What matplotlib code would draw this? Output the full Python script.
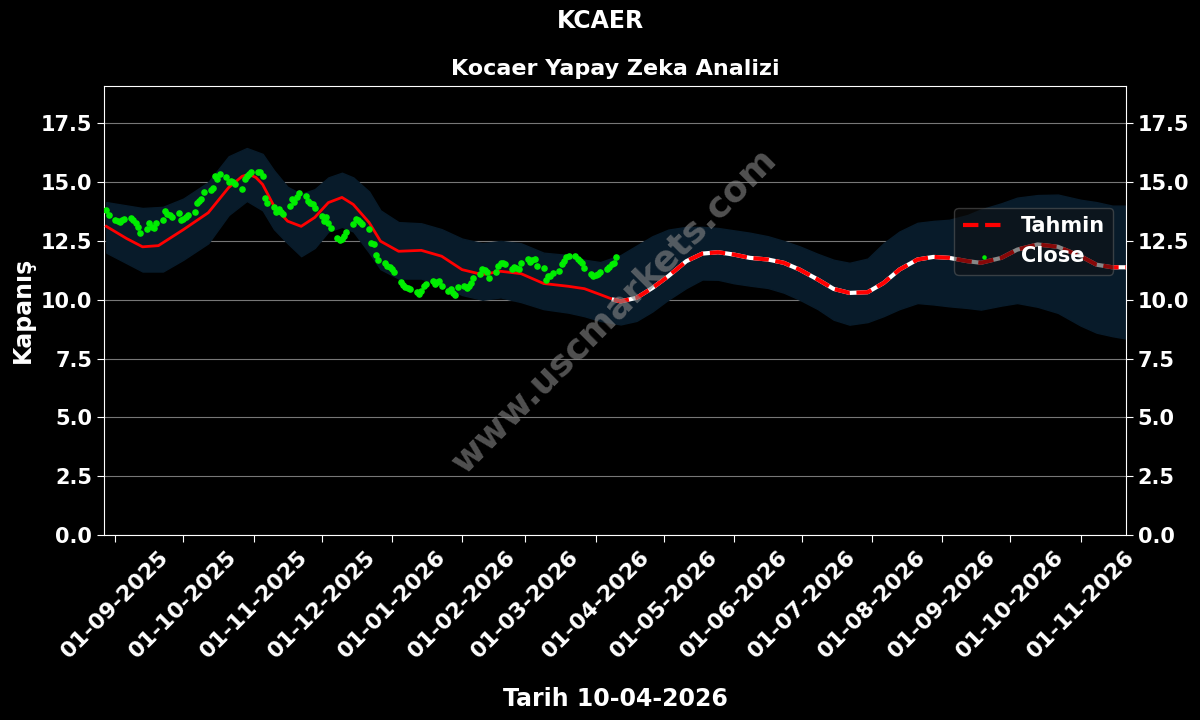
import numpy as np
import pandas as pd
import matplotlib
matplotlib.use("Agg")
import matplotlib.pyplot as plt
import matplotlib.dates as mdates

# kapanis (close) verisi, is gunleri 28-08-2025 .. 10-04-2026
close = [13.83, 13.6,
         13.39, 13.35, 13.3, 13.38, 13.44,
         13.48, 13.4, 13.25, 13.1, 12.85,
         13.0, 13.27, 13.1, 13.05, 13.28,
         13.39, 13.77, 13.65, 13.6, 13.53,
         13.7, 13.39, 13.45, 13.53, 13.59,
         13.73, 14.1, 14.2, 14.27, 14.58,
         14.67, 14.77, 15.27, 15.13, 15.34,
         15.2, 14.99, 15.05, 15.02, 14.92,
         14.7, 15.13, 15.25, 15.34, 15.44,
         15.44, 15.41, 15.24, 14.34, 14.13,
         13.96, 13.73, 13.87, 13.75, 13.63,
         14.0, 14.27, 14.16, 14.35, 14.55,
         14.41, 14.2, 14.1, 14.06, 13.91,
         13.56, 13.34, 13.53, 13.25, 13.07,
         12.64, 12.56, 12.6, 12.7, 12.87,
         13.2, 13.44, 13.39, 13.3, 13.2,
         13.0, 12.43, 12.36, 11.89, 11.69,
         11.58, 11.44, 11.41, 11.3, 11.18,
         10.76, 10.61, 10.56, 10.5, 10.44,
         10.33, 10.23, 10.37, 10.59, 10.66,
         10.8, 10.66, 10.75, 10.8, 10.59,
         10.37, 10.47, 10.3, 10.19, 10.56,
         10.59, 10.52, 10.6, 10.73, 10.94,
         11.09, 11.3, 11.25, 11.18, 10.94,
         11.18, 11.44, 11.58, 11.55, 11.5,
         11.3, 11.41, 11.35, 11.3, 11.58,
         11.73, 11.6, 11.68, 11.75, 11.44,
         11.33, 10.85, 11.0, 11.02, 11.13,
         11.23, 11.51, 11.65, 11.8, 11.87,
         11.84, 11.73, 11.65, 11.58, 11.37,
         11.09, 11.02, 11.05, 11.09, 11.16,
         11.3, 11.41, 11.5, 11.58, 11.8]
close_dates = pd.bdate_range("2025-08-28", periods=len(close))

# model egrisi (gecmis)
fit_dates = ["2025-08-28", "2025-09-06", "2025-09-13", "2025-09-20", "2025-10-01",
             "2025-10-12", "2025-10-21", "2025-10-27", "2025-10-30", "2025-11-02",
             "2025-11-05", "2025-11-10", "2025-11-16", "2025-11-22", "2025-11-28",
             "2025-12-04", "2025-12-10", "2025-12-15", "2025-12-22", "2025-12-27",
             "2026-01-04", "2026-01-14", "2026-01-23", "2026-02-01", "2026-02-10",
             "2026-02-18", "2026-02-27", "2026-03-09", "2026-03-20", "2026-03-27",
             "2026-04-03", "2026-04-09"]
fit_vals = [13.12, 12.6, 12.25, 12.3, 12.98,
            13.7, 14.77, 15.25, 15.33, 15.2,
            14.9, 13.98, 13.34, 13.12, 13.5,
            14.13, 14.35, 14.05, 13.28, 12.49,
            12.06, 12.1, 11.85, 11.28, 11.07,
            11.21, 11.11, 10.69, 10.57, 10.47,
            10.22, 10.0]

# tahmin
fc_dates = ["2026-04-09", "2026-04-12", "2026-04-19", "2026-04-26", "2026-05-03",
            "2026-05-11", "2026-05-18", "2026-05-25", "2026-06-01", "2026-06-08",
            "2026-06-16", "2026-06-23", "2026-06-30", "2026-07-08", "2026-07-15",
            "2026-07-22", "2026-07-30", "2026-08-06", "2026-08-13", "2026-08-21",
            "2026-08-28", "2026-09-04", "2026-09-12", "2026-09-18", "2026-09-27",
            "2026-10-04", "2026-10-13", "2026-10-22", "2026-11-01", "2026-11-08",
            "2026-11-15", "2026-11-21"]
fc_vals = [10.0, 9.93, 10.08, 10.5, 11.0,
           11.64, 11.96, 12.02, 11.92, 11.78,
           11.71, 11.57, 11.28, 10.86, 10.46,
           10.29, 10.32, 10.71, 11.28, 11.71,
           11.82, 11.78, 11.64, 11.57, 11.78,
           12.13, 12.35, 12.25, 11.85, 11.49,
           11.38, 11.38]

# guven bandi
band_dates = ["2025-08-28", "2025-09-13", "2025-09-22", "2025-10-01", "2025-10-12",
              "2025-10-21", "2025-10-29", "2025-11-05", "2025-11-10", "2025-11-16",
              "2025-11-22", "2025-11-28", "2025-12-04", "2025-12-10", "2025-12-15",
              "2025-12-22", "2025-12-27", "2026-01-04", "2026-01-14", "2026-01-23",
              "2026-02-01", "2026-02-10", "2026-02-18", "2026-02-27", "2026-03-09",
              "2026-03-20", "2026-03-27", "2026-04-03", "2026-04-12", "2026-04-19",
              "2026-04-26", "2026-05-03", "2026-05-11", "2026-05-18", "2026-05-25",
              "2026-06-01", "2026-06-08", "2026-06-16", "2026-06-23", "2026-06-30",
              "2026-07-08", "2026-07-15", "2026-07-22", "2026-07-30", "2026-08-06",
              "2026-08-13", "2026-08-21", "2026-08-28", "2026-09-04", "2026-09-12",
              "2026-09-18", "2026-09-27", "2026-10-04", "2026-10-13", "2026-10-22",
              "2026-11-01", "2026-11-08", "2026-11-15", "2026-11-21"]
band_low = [12.0, 11.2, 11.2, 11.7, 12.4,
            13.6, 14.2, 13.8, 13.0, 12.4,
            11.85, 12.2, 12.9, 13.1, 12.9,
            12.0, 11.3, 10.9, 10.9, 10.6,
            10.2, 10.0, 10.1, 9.9, 9.6,
            9.45, 9.3, 9.1, 8.95, 9.1,
            9.5, 10.0, 10.5, 10.86, 10.85,
            10.7, 10.6, 10.5, 10.3, 10.0,
            9.6, 9.15, 8.94, 9.05, 9.3,
            9.6, 9.86, 9.8, 9.72, 9.65,
            9.58, 9.75, 9.86, 9.7, 9.44,
            8.9, 8.6, 8.45, 8.35]
band_high = [14.15, 13.9, 13.95, 14.3, 15.0,
             16.1, 16.45, 16.2, 15.5, 14.8,
             14.5, 14.7, 15.2, 15.4, 15.2,
             14.6, 13.8, 13.3, 13.25, 13.0,
             12.6, 12.4, 12.5, 12.4, 12.0,
             11.9, 11.7, 11.6, 11.9, 12.3,
             12.7, 12.98, 13.1, 13.1, 13.05,
             12.95, 12.85, 12.7, 12.5, 12.27,
             11.95, 11.7, 11.57, 11.75, 12.4,
             12.9, 13.27, 13.35, 13.4, 13.6,
             13.84, 14.1, 14.34, 14.45, 14.47,
             14.25, 14.15, 14.0, 14.0]

yticks = [0, 2.5, 5, 7.5, 10, 12.5, 15, 17.5]

fit_dates = pd.to_datetime(fit_dates)
fc_dates = pd.to_datetime(fc_dates)
band_dates = pd.to_datetime(band_dates)

fig = plt.figure(figsize=(12, 7.2), dpi=100, facecolor="black")
ax = fig.add_axes([0.0867, 0.257, 0.8516, 0.624])
ax.set_facecolor("black")

ax.fill_between(band_dates, band_low, band_high, color="#081b2a", zorder=1)
ax.plot(fit_dates, fit_vals, color="red", lw=2, zorder=3)
ax.plot(fc_dates, fc_vals, color="white", lw=3, zorder=3)
ax.plot(fc_dates, fc_vals, color="red", lw=3, ls="--", label="Tahmin", zorder=4)
ax.scatter(close_dates, close, color="#00ee00", s=14, label="Close", zorder=5)

ax.set_xlim(pd.Timestamp("2025-08-27"), pd.Timestamp("2026-11-21"))
ax.set_ylim(0, 19.1)
ax.set_yticks(yticks)
ax.yaxis.set_major_formatter(matplotlib.ticker.FormatStrFormatter("%.1f"))
ax.grid(axis="y", color="#777777", lw=0.8)
ax.set_axisbelow(True)

ax.xaxis.set_major_locator(mdates.MonthLocator(bymonthday=1))
ax.xaxis.set_major_formatter(mdates.DateFormatter("%d-%m-%Y"))
for spine in ax.spines.values():
    spine.set_color("white")
ax.tick_params(colors="white", labelsize=15, right=True, labelright=True, length=5)
ax.tick_params(axis="x", labelsize=16)
plt.setp(ax.get_xticklabels(), rotation=45, ha="center", fontweight="bold")
for t in ax.yaxis.get_majorticklabels():
    t.set_fontweight("bold")

ax.set_ylabel("Kapanış", color="white", fontsize=17, fontweight="bold")
ax.set_xlabel("Tarih 10-04-2026", color="white", fontsize=17, fontweight="bold", labelpad=18)
ax.set_title("Kocaer Yapay Zeka Analizi", color="white", fontsize=16, fontweight="bold", pad=8)
fig.suptitle("KCAER", color="white", fontsize=17, fontweight="bold", y=0.988)

leg = ax.legend(loc="upper right", bbox_to_anchor=(0.998, 0.752), fontsize=15,
                facecolor="#111111", edgecolor="#666666", framealpha=0.5,
                markerscale=0.6)
for txt in leg.get_texts():
    txt.set_color("white")
    txt.set_fontweight("bold")

fig.text(0.512, 0.569, "www.uscmarkets.com", color="#888888", alpha=0.6,
         fontsize=26, fontweight="bold", rotation=45, ha="center", va="center")

fig.savefig("out.png", facecolor="black")
